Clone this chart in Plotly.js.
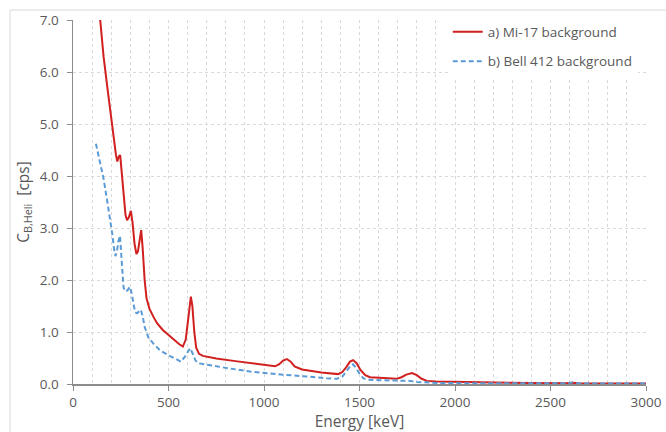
<!DOCTYPE html>
<html>
<head>
<meta charset="utf-8">
<script src="https://cdn.plot.ly/plotly-3.0.1.min.js"></script>
<style>
html,body{margin:0;padding:0;background:#fff;overflow:hidden;}
#chart{width:666px;height:432px;}
</style>
</head>
<body>
<div id="chart"></div>
<script>
// Series a) Mi-17 background
const mi17Energy = [120,141,160,180,200,215,225,232,240,247,255,265,275,283,292,303,312,322,332,340,350,357,365,375,385,400,420,440,470,500,530,555,575,590,600,610,617,625,635,645,660,680,750,850,927,1000,1058,1080,1100,1120,1140,1160,1199,1250,1300,1388,1410,1430,1450,1466,1485,1505,1530,1555,1600,1696,1720,1745,1775,1800,1825,1853,1900,2010,2200,2400,2580,2614,2650,2800,3000];
const mi17Counts = [7.9,7.0,6.3,5.7,5.1,4.7,4.4,4.28,4.38,4.40,4.1,3.6,3.25,3.15,3.2,3.33,3.1,2.7,2.5,2.55,2.85,2.96,2.6,2.0,1.65,1.45,1.3,1.17,1.04,0.94,0.85,0.77,0.72,0.85,1.15,1.55,1.68,1.5,1.0,0.7,0.58,0.54,0.49,0.44,0.40,0.36,0.34,0.38,0.45,0.48,0.43,0.34,0.28,0.25,0.22,0.19,0.23,0.32,0.43,0.46,0.40,0.27,0.17,0.13,0.12,0.10,0.13,0.18,0.21,0.17,0.10,0.06,0.05,0.04,0.025,0.018,0.015,0.025,0.013,0.01,0.008];

// Series b) Bell 412 background
const bellEnergy = [120,140,160,180,194,205,215,222,230,238,246,252,258,265,275,285,298,305,315,325,335,345,355,365,375,394,420,455,500,540,565,585,600,613,625,640,655,700,800,927,1000,1100,1173,1250,1330,1382,1410,1435,1455,1466,1480,1500,1520,1540,1650,1765,1800,1906,2100,2400,2580,2614,2650,3000];
const bellCounts = [4.62,4.25,3.95,3.5,3.2,2.9,2.6,2.46,2.55,2.75,2.85,2.6,2.2,1.85,1.78,1.8,1.87,1.78,1.55,1.38,1.36,1.4,1.43,1.3,1.1,0.9,0.78,0.65,0.55,0.48,0.43,0.52,0.62,0.69,0.6,0.46,0.40,0.37,0.31,0.24,0.21,0.18,0.16,0.13,0.11,0.10,0.14,0.26,0.36,0.38,0.32,0.2,0.11,0.08,0.07,0.06,0.04,0.02,0.015,0.012,0.012,0.03,0.012,0.008];

const seriesNames = ['a) Mi-17 background', 'b) Bell 412 background'];
const xTitle = 'Energy [keV]';
const yTitle = 'C<sub>B,Heli</sub>  [cps]';

const FONT = 'Open Sans, Noto Sans, sans-serif';
const TXT = '#595959';
const GRID = '#d9d9d9';
const AXIS = '#8c8c8c';

const traces = [
  {x: mi17Energy, y: mi17Counts, name: seriesNames[0], type: 'scatter', mode: 'lines',
   line: {color: '#d0201f', width: 2}, legendgroup: 'a'},
  {x: bellEnergy, y: bellCounts, name: seriesNames[1], type: 'scatter', mode: 'lines',
   line: {color: '#5b9bd5', width: 2, dash: '5px,3px'}, legendgroup: 'b'}
];

const layout = {
  width: 666, height: 432,
  margin: {l: 73, r: 20, t: 20, b: 48, pad: 0},
  paper_bgcolor: '#fff', plot_bgcolor: '#fff',
  font: {family: FONT, size: 13, color: TXT},
  showlegend: true,
  legend: {x: 0.654, y: 1.01, xanchor: 'left', yanchor: 'top', bgcolor: '#fff',
           font: {family: FONT, size: 13.5, color: TXT}, tracegroupgap: 9,
           traceorder: 'grouped'},
  xaxis: {range: [0, 3000], dtick: 500, tick0: 0, ticks: 'outside', ticklen: 5, tickcolor: AXIS,
          showline: true, linecolor: AXIS, linewidth: 1.5, zeroline: false,
          showgrid: true, gridcolor: GRID, griddash: 'dot', gridwidth: 1,
          minor: {dtick: 100, showgrid: true, gridcolor: GRID, griddash: 'dot', gridwidth: 1},
          layer: 'below traces',
          tickfont: {family: FONT, size: 13.5, color: TXT},
          title: {text: xTitle, font: {family: FONT, size: 15.5, color: TXT}, standoff: 17}},
  yaxis: {range: [0, 7], dtick: 1, tick0: 0, tickformat: '.1f', ticks: 'outside', ticklen: 5, tickcolor: AXIS,
          showline: true, linecolor: AXIS, linewidth: 1.5, zeroline: false,
          showgrid: true, gridcolor: GRID, griddash: 'dot', gridwidth: 1,
          layer: 'below traces', ticklabelstandoff: 5,
          tickfont: {family: FONT, size: 13.5, color: TXT},
          title: {text: yTitle, font: {family: FONT, size: 15.5, color: TXT}, standoff: 6}},
  shapes: [
    {type: 'rect', xref: 'paper', yref: 'paper', x0: -0.11, x1: 1.3, y0: -0.5, y1: 1.0275,
     line: {color: '#d9d9d9', width: 1}, fillcolor: 'rgba(0,0,0,0)', layer: 'below'}
  ]
};

Plotly.newPlot('chart', traces, layout, {staticPlot: true, displayModeBar: false});
</script>
</body>
</html>
